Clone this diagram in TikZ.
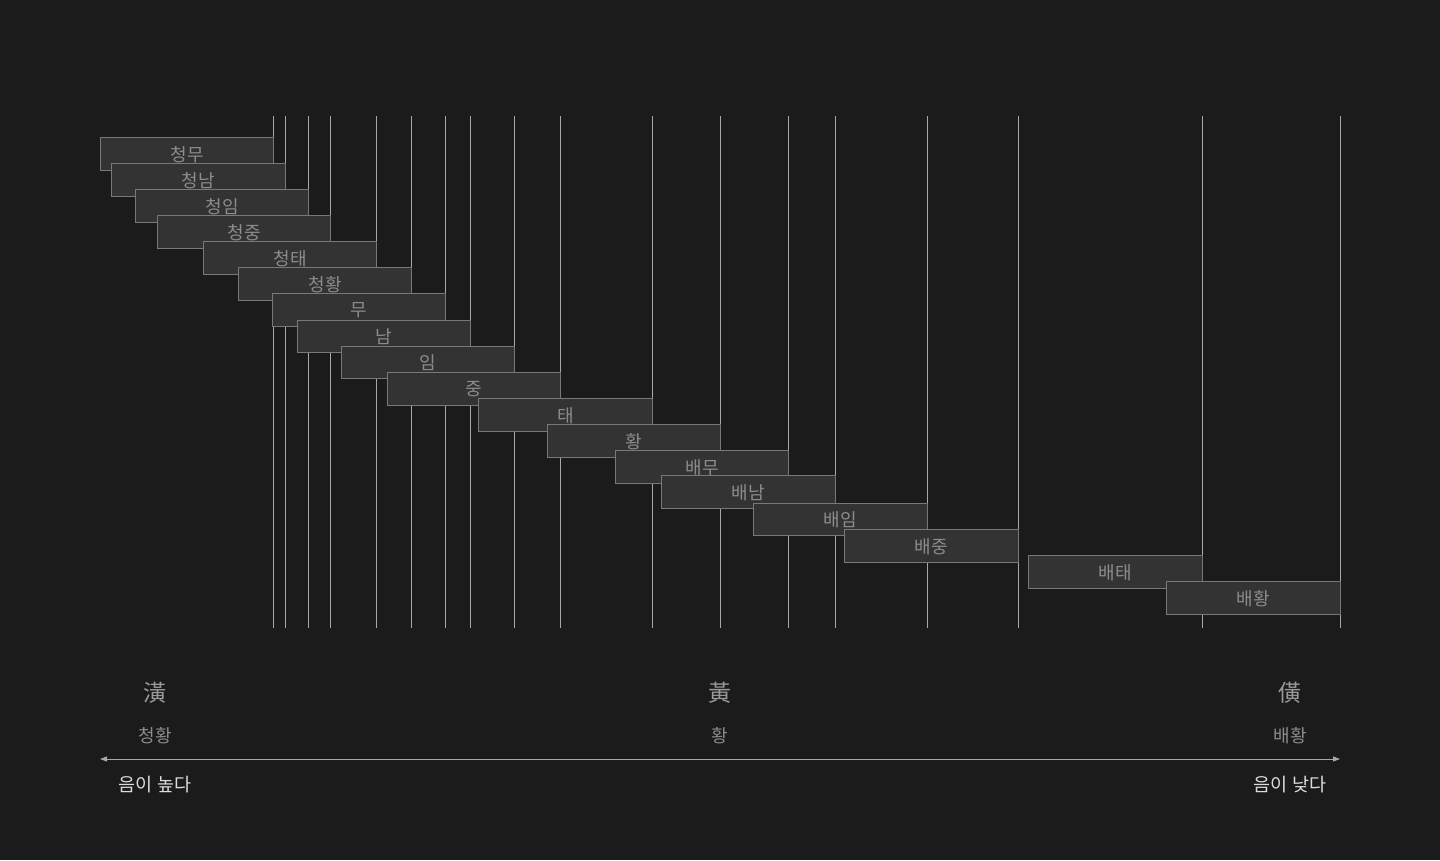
\documentclass[tikz,border=0pt]{standalone}
\usepackage{fontspec}
\setmainfont{Noto Sans CJK KR}
\usetikzlibrary{arrows.meta}
\definecolor{bg}{HTML}{1B1B1B}
\definecolor{boxfill}{HTML}{333333}
\definecolor{boxline}{HTML}{787878}
\definecolor{vline}{HTML}{A8A8A8}
\definecolor{labtext}{HTML}{8C8C8C}
\definecolor{hanja}{HTML}{9A9A9A}
\definecolor{bright}{HTML}{DCDCDC}
\newcommand{\dn}[1]{\raisebox{-0.6pt}[\height][\depth]{#1}}
\tikzset{
  stepbox/.style={draw=boxline, fill=boxfill, line width=1pt, anchor=north west,
    minimum height=33pt, inner sep=0pt, text=labtext, font=\fontsize{18}{18}\selectfont},
  gridline/.style={draw=vline, line width=0.9pt},
  hanjalab/.style={text=hanja, font=\fontsize{23}{23}\selectfont, inner sep=0pt},
  sublab/.style={text=labtext, font=\fontsize{18}{18}\selectfont, inner sep=0pt},
  endlab/.style={text=bright, font=\fontsize{18.5}{18.5}\selectfont, inner sep=0pt},
  axis/.style={draw=vline, line width=0.9pt, {Triangle[length=7pt,width=5pt]}-{Triangle[length=7pt,width=5pt]}}
}
\begin{document}
\begin{tikzpicture}[x=1pt,y=-1pt]
\fill[bg] (0,0) rectangle (1440,860);
\useasboundingbox (0,0) rectangle (1440,860);
% vertical grid lines
\foreach \xx in {273,285,308,330,376,411,445,470,514,560,652,720,788,835,927,1018,1202,1340}
  \draw[gridline] (\xx,116) -- (\xx,628);
% boxes
\node[stepbox, minimum width=173pt] (b1) at (100,137) {\dn{청무}};
\node[stepbox, minimum width=174pt] (b2) at (111,163) {\dn{청남}};
\node[stepbox, minimum width=173pt] (b3) at (135,189) {\dn{청임}};
\node[stepbox, minimum width=173pt] (b4) at (157,215) {\dn{청중}};
\node[stepbox, minimum width=173pt] (b5) at (203,241) {\dn{청태}};
\node[stepbox, minimum width=173pt] (b6) at (238,267) {\dn{청황}};
\node[stepbox, minimum width=173pt] (b7) at (272,293) {\dn{무}};
\node[stepbox, minimum width=173pt, minimum height=32pt] (b8) at (297,320) {\dn{남}};
\node[stepbox, minimum width=173pt, minimum height=32pt] (b9) at (341,346) {\dn{임}};
\node[stepbox, minimum width=173pt] (b10) at (387,372) {\dn{중}};
\node[stepbox, minimum width=174pt] (b11) at (478,398) {\dn{태}};
\node[stepbox, minimum width=173pt] (b12) at (547,424) {\dn{황}};
\node[stepbox, minimum width=173pt] (b13) at (615,450) {\dn{배무}};
\node[stepbox, minimum width=174pt] (b14) at (661,475) {\dn{배남}};
\node[stepbox, minimum width=174pt, minimum height=32pt] (b15) at (753,503) {\dn{배임}};
\node[stepbox, minimum width=174pt] (b16) at (844,529) {\dn{배중}};
\node[stepbox, minimum width=174pt] (b17) at (1028,555) {\dn{배태}};
\node[stepbox, minimum width=174pt] (b18) at (1166,581) {\dn{배황}};
% bottom labels
\node[hanjalab] (h1) at (155,693) {潢};
\node[hanjalab] (h2) at (720,693) {黃};
\node[hanjalab] (h3) at (1290,693) {僙};
\node[sublab] (s1) at (155,735.5) {청황};
\node[sublab] (s2) at (720,735.5) {황};
\node[sublab] (s3) at (1290,735.5) {배황};
% axis
\coordinate (aL) at (100,759);
\coordinate (aR) at (1340,759);
\draw[axis] (aL) -- (aR);
\node[endlab] (e1) at (155,785) {음이 높다};
\node[endlab] (e2) at (1290,785) {음이 낮다};
\end{tikzpicture}
\end{document}
